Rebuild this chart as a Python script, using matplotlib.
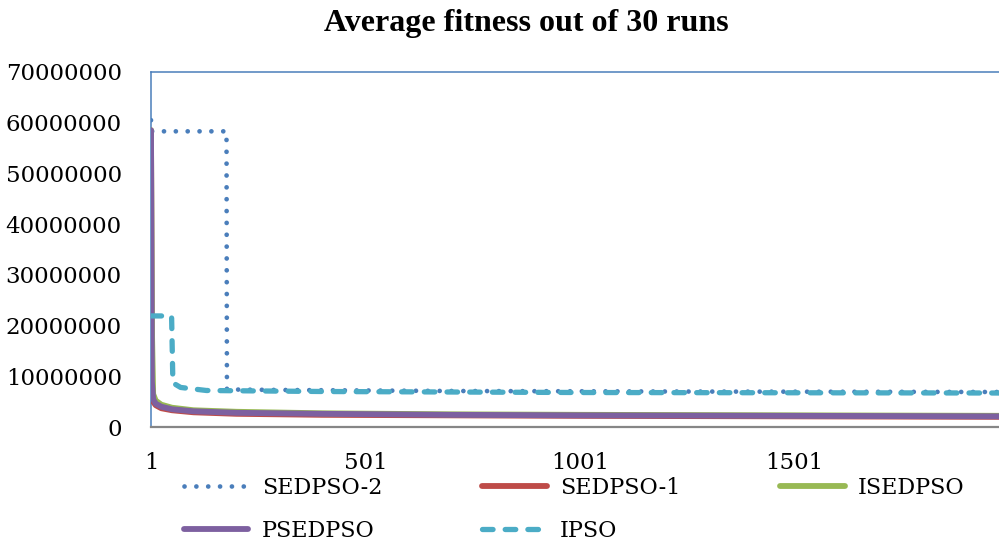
import matplotlib

matplotlib.use("Agg")
import matplotlib.pyplot as plt
from matplotlib.ticker import FuncFormatter

# Average best fitness per iteration (key iterations of each run curve)
iters_sedpso2 = [1, 2, 177, 178, 300, 700, 1200, 2000]
fit_sedpso2 = [60.5e6, 58.3e6, 58.3e6, 7.4e6, 7.3e6, 7.1e6, 7.0e6, 6.9e6]

iters_ipso = [1, 49, 52, 70, 130, 400, 1000, 2000]
fit_ipso = [21.9e6, 21.9e6, 8.7e6, 7.8e6, 7.2e6, 7.0e6, 6.8e6, 6.7e6]

iters_curve = [1, 3, 6, 12, 25, 50, 100, 200, 400, 700, 1000, 1500, 2000]
fit_sedpso1 = [58.5e6, 8.0e6, 5.0e6, 4.3e6, 3.7e6, 3.3e6, 2.9e6, 2.6e6, 2.4e6, 2.3e6, 2.2e6, 2.1e6, 2.0e6]
fit_isedpso = [58.5e6, 20.0e6, 6.5e6, 5.2e6, 4.4e6, 3.8e6, 3.3e6, 3.0e6, 2.7e6, 2.5e6, 2.4e6, 2.3e6, 2.2e6]
fit_psedpso = [58.5e6, 9.0e6, 5.5e6, 4.6e6, 4.0e6, 3.5e6, 3.1e6, 2.8e6, 2.6e6, 2.4e6, 2.3e6, 2.2e6, 2.1e6]

y_ticks = [0, 10e6, 20e6, 30e6, 40e6, 50e6, 60e6, 70e6]
x_ticks = [1, 501, 1001, 1501]

W, H = 999, 548
fig = plt.figure(figsize=(W / 100, H / 100), dpi=100, facecolor="white")
# plot area runs past the right edge of the canvas
ax = fig.add_axes([151 / W, 1 - 427 / H, 1999 * 0.429 / W, 355 / H])

ax.plot(iters_sedpso2, fit_sedpso2, color="#4A7EBB", lw=3.4, linestyle=(0, (0.01, 2.5)),
        dash_capstyle="round", label="SEDPSO-2", zorder=2)
ax.plot(iters_curve, fit_sedpso1, color="#BE4B48", lw=4.2, solid_capstyle="round",
        solid_joinstyle="round", label="SEDPSO-1", zorder=3)
ax.plot(iters_curve, fit_isedpso, color="#98B954", lw=4.2, solid_capstyle="round",
        solid_joinstyle="round", label="ISEDPSO", zorder=4)
ax.plot(iters_curve, fit_psedpso, color="#7D60A0", lw=4.2, solid_capstyle="round",
        solid_joinstyle="round", label="PSEDPSO", zorder=5)
ax.plot(iters_ipso, fit_ipso, color="#4BACC6", lw=3.8, linestyle=(0, (2.0, 2.3)),
        dash_capstyle="round", label="IPSO", zorder=6)

ax.set_xlim(1, 2000)
ax.set_ylim(0, 70e6)
ax.set_yticks(y_ticks)
ax.set_xticks(x_ticks)
ax.yaxis.set_major_formatter(FuncFormatter(lambda v, _: f"{int(round(v))}"))

for lbl in ax.get_yticklabels() + ax.get_xticklabels():
    lbl.set_fontfamily("DejaVu Serif")
    lbl.set_fontsize(16.5)
ax.tick_params(axis="y", length=0, pad=21)
ax.tick_params(axis="x", length=0, pad=18)

for side in ("left", "top", "right"):
    ax.spines[side].set_color("#4A7EBB")
    ax.spines[side].set_linewidth(1.1)
ax.spines["bottom"].set_color("#868686")
ax.spines["bottom"].set_linewidth(1.6)

fig.text(526 / W, 1 - 23 / H, "Average fitness out of 30 runs", ha="center", va="center",
         fontfamily="Liberation Serif", fontweight="bold", fontsize=23)

# legend fills column by column, so order entries to read row by row
handles, labels = ax.get_legend_handles_labels()
order = [0, 3, 1, 4, 2]
fig.legend([handles[i] for i in order], [labels[i] for i in order], loc="upper left",
           bbox_to_anchor=(184 / W, 1 - 477 / H), ncol=3, frameon=False, borderpad=0,
           borderaxespad=0, handlelength=2.9, handletextpad=0.6, columnspacing=4.5,
           labelspacing=0.95, prop={"family": "DejaVu Serif", "size": 16})

fig.savefig("out.png", dpi=100, facecolor="white")
